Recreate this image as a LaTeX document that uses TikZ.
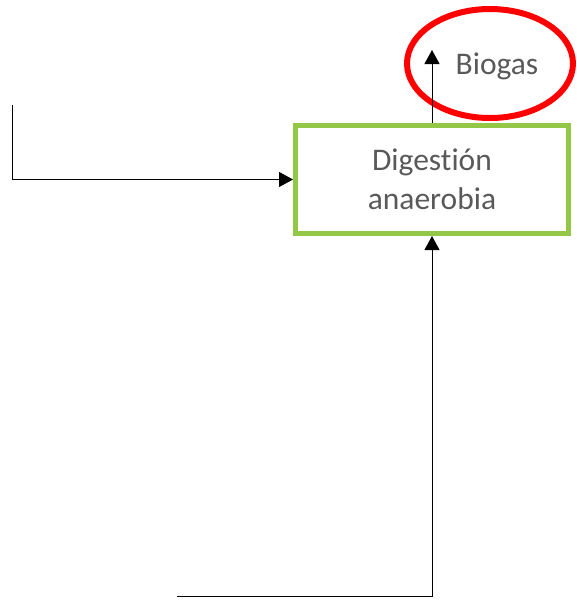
\documentclass[tikz,border=0pt]{standalone}
\usepackage{fontspec}
\setmainfont{Carlito}[Ligatures={NoCommon,NoRare,NoDiscretionary}]
\usetikzlibrary{arrows.meta,shapes.geometric}
\definecolor{boxgreen}{RGB}{146,200,70}
\definecolor{ringred}{RGB}{255,0,0}
\definecolor{txtgray}{RGB}{89,89,89}
\tikzset{
  arr/.style={draw=black,line width=1pt,-{Triangle[length=14pt,width=15pt]}},
  procbox/.style={draw=boxgreen,line width=5pt,minimum width=273pt,minimum height=108pt,inner sep=0pt,align=center,text=txtgray,font=\fontsize{31.5}{39}\selectfont},
  ring/.style={ellipse,draw=ringred,line width=6pt,minimum width=166pt,minimum height=109pt,inner sep=0pt},
  lbl/.style={text=txtgray,font=\fontsize{31.5}{39}\selectfont,inner sep=0pt}
}
\begin{document}
\begin{tikzpicture}[x=1pt,y=-1pt]
\useasboundingbox (0,0) rectangle (577,606);
\node[procbox] (box) at (432,179.5) {Digestión\\anaerobia};
\node[ring] (ell) at (490,63.5) {};
\node[lbl] (bio) at (497,66) {Biogas};
\coordinate (in1) at (12,105);
\coordinate (in2) at (177,596);
\coordinate (out) at (432,50);
\draw[arr] (in1) |- (box.west);
\draw[arr] (in2) -| (box.south);
\draw[arr] (box.north) -- (out);
\end{tikzpicture}
\end{document}
